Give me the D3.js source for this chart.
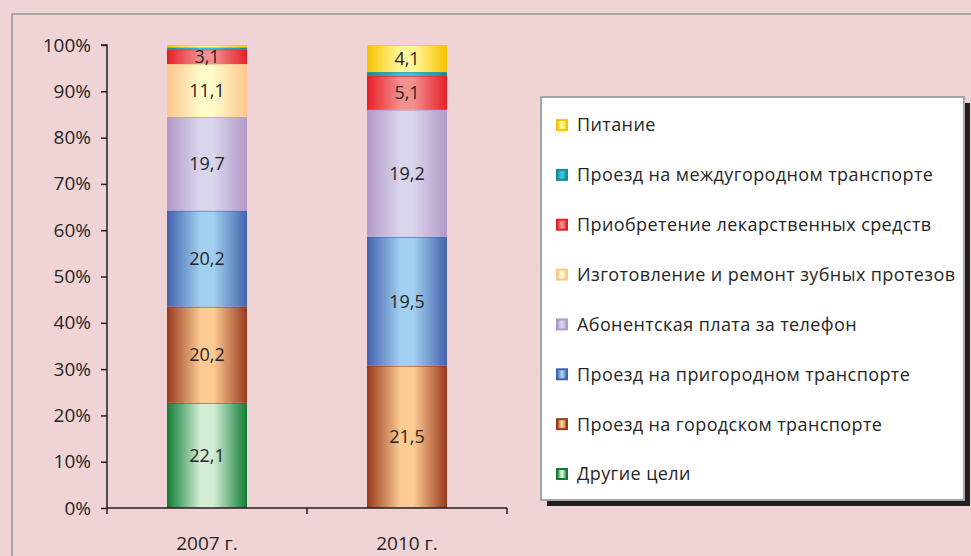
<!DOCTYPE html>
<html>
<head>
<meta charset="utf-8">
<script src="https://cdn.jsdelivr.net/npm/d3@7"></script>
<style>
	body { margin: 0; background: #efd3d5; }
	text { font-family: "Open Sans", sans-serif; fill: #262626; }
</style>
</head>
<body>
<div id="graph"></div>
<script>
var years = ["2007 г.", "2010 г."];

// series, bottom to top of the bars
var seriesNames = [
	"Другие цели",
	"Проезд на городском транспорте",
	"Проезд на пригородном транспорте",
	"Абонентская плата за телефон",
	"Изготовление и ремонт зубных протезов",
	"Приобретение лекарственных средств",
	"Проезд на междугородном транспорте",
	"Питание"
];
var otherGoals = [22.1, 0],
	cityTransport = [20.2, 21.5],
	suburbanTransport = [20.2, 19.5],
	phoneFee = [19.7, 19.2],
	dentures = [11.1, 0],
	medicine = [3.1, 5.1],
	intercityTransport = [0.4, 0.6],
	food = [0.5, 4.1];

var yTicks = [0, 0.1, 0.2, 0.3, 0.4, 0.5, 0.6, 0.7, 0.8, 0.9, 1];

// gradient colours: [edge, centre]
var colors = [
	["#0f7d36", "#d4eed5"],
	["#983a1c", "#fdcb94"],
	["#4363ae", "#a2d0f0"],
	["#b399c8", "#d9d5ec"],
	["#fcc68c", "#fffbca"],
	["#e61e28", "#f29090"],
	["#1b8a8c", "#33c2e6"],
	["#f6c400", "#fff69c"]
];

var W = 971, H = 556;
var allValues = [otherGoals, cityTransport, suburbanTransport, phoneFee, dentures, medicine, intercityTransport, food];
var table = years.map(function(y, i){
	var row = {year: y};
	seriesNames.forEach(function(s, j){ row[s] = allValues[j][i]; });
	return row;
});

var svg = d3.select("#graph").append("svg")
	.attr("width", W).attr("height", H);

var defs = svg.append("defs");
colors.forEach(function(c, i){
	var g = defs.append("linearGradient").attr("id", "grad" + i)
		.attr("x1", 0).attr("x2", 1).attr("y1", 0).attr("y2", 0);
	g.append("stop").attr("offset", 0).attr("stop-color", c[0]);
	g.append("stop").attr("offset", 0.42).attr("stop-color", c[1]);
	g.append("stop").attr("offset", 0.58).attr("stop-color", c[1]);
	g.append("stop").attr("offset", 1).attr("stop-color", c[0]);
});

// outer frame
svg.append("rect")
	.attr("x", 12).attr("y", 14).attr("width", W).attr("height", H)
	.attr("fill", "none").attr("stroke", "#a6a6a6").attr("stroke-width", 2);

var x = d3.scaleBand().domain(years).range([107, 507]).paddingInner(0.6).paddingOuter(0.3),
	y = d3.scaleLinear().domain([0, 1]).range([508, 45]);

var stack = d3.stack().keys(seriesNames).offset(d3.stackOffsetExpand);
var layers = stack(table);

var layerG = svg.append("g").selectAll("g")
	.data(layers).enter()
	.append("g")
	.attr("fill", function(d, i){ return "url(#grad" + i + ")"; });

layerG.selectAll("rect")
	.data(function(d){ return d; }).enter()
	.append("rect")
	.attr("x", function(d){ return x(d.data.year); })
	.attr("width", x.bandwidth())
	.attr("y", function(d){ return y(d[1]); })
	.attr("height", function(d){ return y(d[0]) - y(d[1]); });

// thin line on top of each segment
layerG.each(function(l, i){
	d3.select(this).selectAll("line")
		.data(l.filter(function(d){ return d[1] - d[0] > 0.005; })).enter()
		.append("line")
		.attr("x1", function(d){ return x(d.data.year); })
		.attr("x2", function(d){ return x(d.data.year) + x.bandwidth(); })
		.attr("y1", function(d){ return y(d[1]) + 0.5; })
		.attr("y2", function(d){ return y(d[1]) + 0.5; })
		.attr("stroke", colors[i][0]).attr("stroke-opacity", 0.7);
});

layerG.selectAll("text")
	.data(function(d){ return d.filter(function(p){ return p.data[d.key] >= 3; })
		.map(function(p){ return {p: p, v: p.data[d.key]}; }); })
	.enter().append("text")
	.attr("x", function(d){ return x(d.p.data.year) + x.bandwidth()/2; })
	.attr("y", function(d){ return (y(d.p[0]) + y(d.p[1]))/2; })
	.attr("dy", "0.36em")
	.attr("text-anchor", "middle")
	.style("font-size", "18px")
	.text(function(d){ return d3.format(".1f")(d.v).replace(".", ","); });

// axes
var yAxis = svg.append("g").attr("transform", "translate(107,0)")
	.call(d3.axisLeft(y).tickValues(yTicks).tickFormat(d3.format(".0%")).tickSize(6).tickPadding(10));
yAxis.selectAll("text").style("font-size", "19px").attr("fill", "#262626");

var xAxis = svg.append("g").attr("transform", "translate(0,508)");
xAxis.append("line").attr("x1", 107).attr("x2", 507)
	.attr("stroke", "#231f20").attr("stroke-width", 1.5);
xAxis.selectAll(".xt")
	.data([107, 307, 507]).enter()
	.append("line").attr("class", "xt")
	.attr("x1", function(d){ return d; }).attr("x2", function(d){ return d; })
	.attr("y1", 0).attr("y2", 6)
	.attr("stroke", "#231f20").attr("stroke-width", 1.5);
xAxis.selectAll("text")
	.data(years).enter()
	.append("text")
	.attr("x", function(d){ return x(d) + x.bandwidth()/2; })
	.attr("y", 42)
	.attr("text-anchor", "middle")
	.style("font-size", "19px")
	.text(function(d){ return d; });

yAxis.selectAll("path, line").attr("stroke", "#231f20").attr("stroke-width", 1.5);
yAxis.select("path.domain").attr("d", "M-6,45H0V508");

// legend
var legend = svg.append("g");
legend.append("rect")
	.attr("x", 547).attr("y", 103).attr("width", 423).attr("height", 403)
	.attr("fill", "#231f20");
legend.append("rect")
	.attr("x", 541).attr("y", 97).attr("width", 423).attr("height", 403)
	.attr("fill", "#fff").attr("stroke", "#a6a6a6").attr("stroke-width", 2);

var legendNames = seriesNames.slice().reverse();
var ly = d3.scalePoint().domain(legendNames).range([125, 474]);

var items = legend.selectAll(".item")
	.data(legendNames).enter()
	.append("g").attr("class", "item")
	.attr("transform", function(d){ return "translate(0," + ly(d) + ")"; });
items.append("rect")
	.attr("x", 557).attr("y", -5).attr("width", 10).attr("height", 10)
	.attr("fill", function(d){ return "url(#grad" + seriesNames.indexOf(d) + ")"; })
	.attr("stroke", function(d){ return colors[seriesNames.indexOf(d)][0]; })
	.attr("stroke-width", 2);
items.append("text")
	.attr("x", 577).attr("dy", "0.36em")
	.style("font-size", "18px")
	.style("letter-spacing", "0.4px")
	.text(function(d){ return d; });
</script>
</body>
</html>
